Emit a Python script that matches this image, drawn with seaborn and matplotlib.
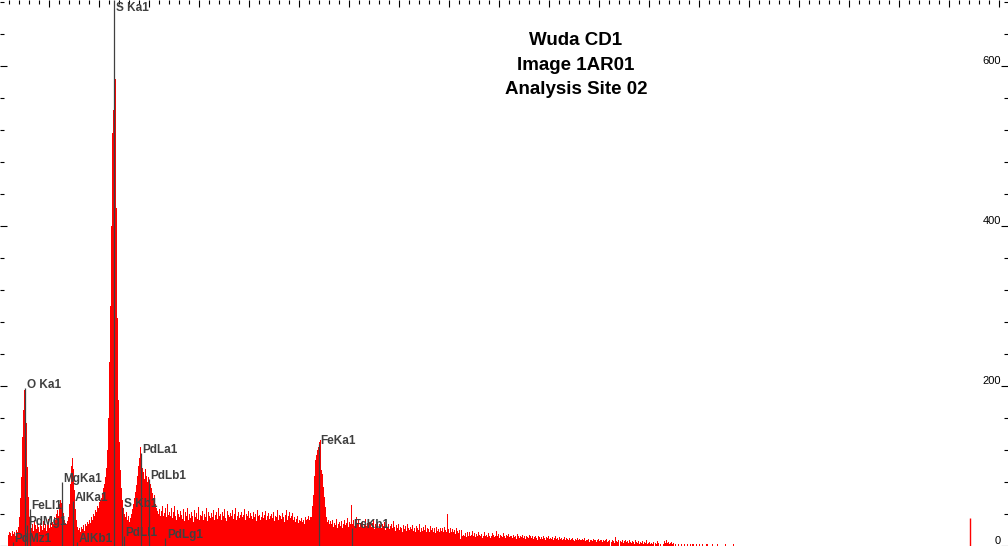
import numpy as np
import pandas as pd
import matplotlib
matplotlib.use('Agg')
import matplotlib.pyplot as plt
from matplotlib.ticker import MultipleLocator
from matplotlib.transforms import blended_transform_factory
import seaborn as sns

# ---- spectrum data (counts per 20 eV channel, first channel at 0.18 keV) ----
first_channel_kev = 0.18
channel_kev = 0.02
counts = [
    14, 18, 16, 12, 19, 15, 17, 13, 20, 18,
    24, 36, 60, 86, 136, 170, 195, 191, 154, 99, 61, 36, 24,
    22, 28, 19, 33, 26, 21, 30, 24, 18, 27,
    25, 20, 31, 23, 28, 19, 26, 34, 22, 29,
    24, 30, 27, 36, 32, 40, 45, 38, 52, 57,
    54, 48, 41, 33, 29, 27, 31, 36, 52, 78,
    100, 110, 96, 70, 46, 32, 24, 20, 22, 18,
    24, 21, 26, 19, 28, 25, 30, 27, 33, 29,
    36, 32, 40, 38, 45, 42, 50, 47, 55, 58,
    60, 66, 72, 78, 86, 98, 120, 160, 230, 300,
    400, 516, 545, 606, 584, 422, 285, 182, 130, 95,
    72, 58, 48, 40, 36, 42, 33, 38, 30, 35,
    40, 46, 52, 60, 68, 76, 88, 100, 110, 124,
    106, 98, 92, 84, 96, 88, 80, 86, 74, 78,
    72, 66, 60, 64, 52, 48, 44, 40, 46, 38,
    44, 50, 38, 41, 47, 36, 52, 39, 43, 37,
    48, 35, 42, 50, 38, 33, 45, 40, 36, 44,
    39, 34, 46, 31, 42, 37, 48, 33, 40, 35,
    43, 38, 30, 45, 36, 41, 34, 49, 32, 39,
    37, 44, 33, 40, 36, 47, 31, 42, 38, 35,
    41, 36, 45, 32, 39, 43, 34, 48, 37, 40,
    33, 42, 38, 46, 35, 31, 44, 39, 36, 41,
    37, 45, 34, 40, 48, 32, 38, 43, 35, 39,
    42, 36, 39, 46, 33, 40, 37, 44, 35, 41,
    38, 34, 43, 36, 40, 31, 45, 37, 39, 33,
    36, 42, 35, 39, 44, 32, 38, 41, 34, 37,
    40, 35, 43, 31, 38, 36, 45, 33, 39, 37,
    34, 41, 36, 30, 39, 45, 33, 37, 42, 35,
    38, 41, 32, 36, 30, 34, 37, 29, 33, 31,
    35, 30, 33, 28, 36, 32, 34, 38, 33, 36,
    36, 50, 64, 88, 107, 114, 120, 124, 130, 132,
    95, 90, 74, 61, 49, 36, 30, 33, 27, 31,
    28, 32, 24, 29, 26, 34, 22, 27, 30, 25,
    31, 23, 28, 33, 26, 29, 35, 24, 30, 27,
    51, 28, 33, 25, 30, 36, 27, 32, 24, 29,
    26, 31, 23, 28, 34, 25, 29, 22, 30, 27,
    24, 29, 32, 21, 27, 25, 30, 23, 28, 26,
    22, 27, 25, 30, 20, 26, 23, 28, 21, 25,
    27, 22, 31, 24, 19, 26, 23, 28, 20, 24,
    23, 18, 26, 21, 25, 19, 28, 22, 20, 24,
    21, 26, 19, 23, 17, 25, 22, 20, 27, 18,
    22, 19, 24, 20, 26, 17, 23, 21, 18, 25,
    20, 23, 18, 22, 16, 24, 19, 21, 17, 22,
    19, 22, 17, 24, 20, 18, 40, 21, 16, 23,
    18, 21, 17, 20, 15, 22, 19, 16, 20, 9,
    20, 12, 14, 13, 16, 11, 18, 13, 17, 12,
    14, 19, 13, 16, 11, 15, 12, 17, 14, 13,
    15, 10, 13, 17, 12, 14, 11, 16, 13, 10,
    12, 16, 14, 11, 13, 19, 12, 15, 10, 14,
    13, 11, 16, 12, 10, 14, 12, 15, 11, 13,
    12, 10, 14, 11, 13, 9, 15, 12, 10, 13,
    11, 14, 10, 12, 9, 13, 11, 10, 14, 12,
    10, 12, 9, 11, 13, 10, 8, 12, 11, 9,
    11, 9, 12, 10, 8, 11, 10, 12, 9, 10,
    9, 11, 8, 10, 12, 9, 10, 7, 11, 9,
    10, 8, 9, 11, 7, 10, 9, 8, 10, 7,
    9, 10, 8, 6, 9, 8, 10, 7, 9, 8,
    7, 9, 8, 10, 6, 8, 7, 9, 5, 8,
    8, 6, 9, 7, 8, 5, 7, 9, 6, 8,
    7, 5, 8, 6, 7, 9, 5, 6, 8, 0,
    5, 7, 6, 4, 11, 6, 5, 7, 0, 6,
    5, 8, 4, 6, 7, 5, 6, 4, 7, 5,
    4, 6, 5, 3, 7, 5, 4, 6, 3, 5,
    4, 6, 3, 5, 4, 7, 3, 4, 5, 3,
    4, 3, 5, 0, 4, 3, 6, 4, 0, 3,
    0, 0, 3, 6, 4, 7, 4, 5, 3, 4,
    5, 3, 4, 0, 3, 0, 0, 2, 0, 0,
    3, 0, 0, 2, 0, 0, 2, 0, 0, 2,
    0, 2, 2, 0, 0, 2, 0, 0, 3, 0,
    0, 2, 0, 0, 0, 2, 3, 0, 0, 0,
    0, 2, 0, 0, 0, 0, 2, 0, 0, 0,
    0, 0, 0, 0, 2, 0, 0, 0, 0, 0,
    0, 0, 2, 0, 0,
]

# ---- element line markers ----
line_names = ['PdMz1', 'O Ka1', 'PdMg1', 'FeLl1', 'MgKa1', 'AlKa1', 'AlKb1',
              'S Ka1', 'S Kb1', 'PdLl1', 'PdLa1', 'PdLb1', 'PdLg1', 'FeKa1', 'FeKb1']
line_kev = [0.284, 0.525, 0.559, 0.615, 1.254, 1.487, 1.557,
            2.307, 2.464, 2.503, 2.839, 2.990, 3.328, 6.404, 7.058]
label_counts = [5, 197, 26, 46, 80, 56, 5, 669, 49, 12, 116, 84, 10, 127, 22]

marker_kev = 19.42
marker_counts = 35

title_lines = ['Wuda CD1', 'Image 1AR01', 'Analysis Site 02']
right_labels = [0, 200, 400, 600]

x_range = (0.02, 20.18)
y_range = (0, 682.5)

# ---- drawing ----
sns.set_style('white')
plt.rcParams['font.family'] = ['Liberation Sans', 'DejaVu Sans']

fig = plt.figure(figsize=(10.08, 5.46), dpi=100)
fig.patch.set_facecolor('white')
ax = fig.add_axes([0, 0, 1, 1])

edges = first_channel_kev + channel_kev * np.arange(len(counts) + 1)
df = pd.DataFrame({'kev': edges[:-1] + channel_kev / 2, 'counts': counts})
sns.histplot(data=df, x='kev', weights='counts', bins=edges.tolist(),
             color='#ff0000', alpha=1, linewidth=0, element='bars', ax=ax)

ax.vlines(marker_kev, 0, marker_counts, color='#ff0000', lw=1)

ax.set_xlim(*x_range)
ax.set_ylim(*y_range)

grey = '#404040'
tops = [y_range[1] if n == 'S Ka1' else c for n, c in zip(line_names, label_counts)]
ax.vlines(line_kev, 0, tops, color=grey, lw=0.9, zorder=3)
for name, kev, c in zip(line_names, line_kev, label_counts):
    ax.text(kev + 0.03, c, name, ha='left', va='baseline', fontsize=8.5,
            fontweight='bold', color=grey, zorder=4)

for s in ax.spines.values():
    s.set_visible(False)
ax.set_xlabel('')
ax.set_ylabel('')

ax.xaxis.set_major_locator(MultipleLocator(1))
ax.xaxis.set_minor_locator(MultipleLocator(0.2))
ax.yaxis.set_major_locator(MultipleLocator(200))
ax.yaxis.set_minor_locator(MultipleLocator(40))
ax.tick_params(axis='x', which='both', top=True, bottom=False, direction='in',
               labeltop=False, labelbottom=False, width=0.8, color='black')
ax.tick_params(axis='y', which='both', left=True, right=True, direction='in',
               labelleft=False, labelright=False, width=0.8, color='black')
ax.tick_params(which='major', length=5)
ax.tick_params(which='minor', length=3)

trans = blended_transform_factory(ax.transAxes, ax.transData)
for v in right_labels:
    ax.text(1001 / 1008, v + 3, str(v), transform=trans, ha='right',
            va='baseline', fontsize=8, color='black')

for i, t in enumerate(title_lines):
    fig.text(576 / 1008, 1 - (45 + 24.5 * i) / 546, t, ha='center', va='baseline',
             fontsize=13.5, fontweight='bold', color='black')

fig.savefig('out.png', dpi=100)
